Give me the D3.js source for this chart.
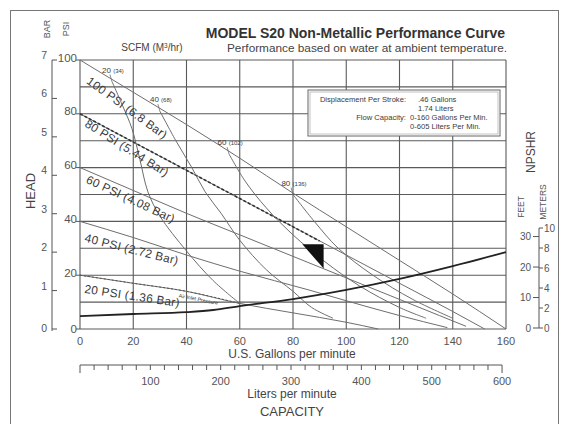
<!DOCTYPE html>
<html><head><meta charset="utf-8">
<script src="https://cdn.jsdelivr.net/npm/d3@7"></script>
<style>
html,body{margin:0;padding:0;background:#fff;}
svg{display:block;font-family:"Liberation Sans",Arial,sans-serif;}
</style></head>
<body>
<script>
// ---------- DATA ----------
const gpmTicks = [0,20,40,60,80,100,120,140,160];
const psiTicks = [0,20,40,60,80,100];
const barTicks = [0,1,2,3,4,5,6,7];
const lpmLabels = [100,200,300,400,500,600];
const feetTicks = [0,10,20,30];
const meterTicks = [0,2,4,6,8,10];

// constant air-inlet-pressure curves: [GPM, PSI head]
const p100 = [[0,100],[20,88],[40,76],[60,63.5],[80,50.5],[100,38],[120,25.5],[140,13],[160,0]];
const p80  = [[0,80],[20,69.5],[40,59],[60,48.5],[80,38],[100,27.5],[120,17],[140,6.5],[152,0]];
const p60  = [[0,60],[20,51.5],[40,43],[60,35],[80,27],[100,19],[120,11],[135,5],[145,1]];
const p40  = [[0,40],[20,34],[40,27.5],[60,21.5],[86,14.5],[100,10.5],[120,5],[138,0.5]];
const p20  = [[0,20],[20,17],[40,14],[60,9.5],[80,6],[100,2.5],[112,0]];
const p80dashed = [[0,80],[20,69.5],[40,59],[60,48.5],[80,38],[90,32.7]];
const pressureLabels = ["100 PSI (6.8 Bar)","80 PSI (5.44 Bar)","60 PSI (4.08 Bar)","40 PSI (2.72 Bar)","20 PSI (1.36 Bar)"];

// air consumption curves (SCFM): [GPM, PSI]
const s20 = [[12,92],[16,83],[19.5,74.5],[22.5,63],[25.5,51],[30,42],[40,29],[50,18],[60,9.5]];
const s40 = [[30,81],[36,70],[42,60],[47,51],[53,43],[60,33],[70,22],[80,14],[87,8],[95,4]];
const s60 = [[56,65],[62,55],[70,45],[80,35],[92,25],[105,16],[120,8],[130,4]];
const s80 = [[80,50],[88,40],[97,30],[110,20],[125,11],[140,4]];
const scfmLabels = [["20","(34)"],["40","(68)"],["60","(102)"],["80","(136)"]];

// NPSHR curve: [GPM, feet]
const npshr = [[0,3.9],[20,4.6],[40,5.2],[50,5.9],[60,7.2],[80,9.5],[100,12.5],[120,16.1],[140,20.3],[160,24.9]];

// operating-limit marker triangle: [GPM, PSI]
const marker = [[83.5,31.5],[91.5,31.5],[91.5,22.5]];

const infoLeft  = ["Displacement Per Stroke:","","Flow Capacity:",""];
const infoRight = [".46 Gallons","1.74 Liters","0-160 Gallons Per Min.","0-605 Liters Per Min."];

// ---------- DRAW ----------
const W=563,H=424;
const svg=d3.select("body").append("svg").attr("width",W).attr("height",H);
const ink="#3a3a3a", grid="#5a5a5a", curve="#6e6e6e";

svg.append("rect").attr("x",10.5).attr("y",10.5).attr("width",548).attr("height",430)
  .attr("fill","none").attr("stroke","#777").attr("stroke-width",1);

const x=d3.scaleLinear().domain([0,160]).range([80,506]);
const y=d3.scaleLinear().domain([0,100]).range([329,60]);
const yBar=d3.scaleLinear().domain([0,7]).range([329,60]);
const xL=d3.scaleLinear().domain([0,600]).range([80,x(600/3.785)]);
const yM=d3.scaleLinear().domain([0,10]).range([328,228]);
const yF=d3.scaleLinear().domain([0,10/0.3048]).range([328,228]);

// grid
const g=svg.append("g");
g.selectAll(".h").data(d3.range(0,101,10)).join("line")
  .attr("x1",x(0)).attr("x2",x(160)).attr("y1",d=>y(d)).attr("y2",d=>y(d))
  .attr("stroke",grid).attr("stroke-width",1.1);
g.selectAll(".v").data(gpmTicks).join("line")
  .attr("x1",d=>x(d)).attr("x2",d=>x(d)).attr("y1",y(0)).attr("y2",y(100))
  .attr("stroke",grid).attr("stroke-width",1.1);

// info box
const bx=308,by=90,bw=192,bh=46;
svg.append("rect").attr("x",bx).attr("y",by).attr("width",bw).attr("height",bh)
  .attr("fill","#fff").attr("stroke","#666").attr("stroke-width",1);
svg.append("rect").attr("x",bx+2).attr("y",by+2).attr("width",bw-4).attr("height",bh-4)
  .attr("fill","none").attr("stroke","#999").attr("stroke-width",0.6);
infoLeft.forEach((t,i)=>{
  svg.append("text").attr("x",406).attr("y",101.5+i*9.3).attr("text-anchor","end")
    .attr("font-size",7.6).attr("fill",ink).text(t);
});
infoRight.forEach((t,i)=>{
  svg.append("text").attr("x",i<2?418:410).attr("y",101.5+i*9.3)
    .attr("font-size",7.6).attr("fill",ink).text(t);
});

// curves
const line=d3.line().x(d=>x(d[0])).y(d=>y(d[1])).curve(d3.curveMonotoneX);
[p100,p80,p60,p40,p20].forEach(p=>{
  svg.append("path").attr("d",line(p)).attr("fill","none").attr("stroke",curve).attr("stroke-width",1);
});
svg.append("path").attr("d",line(p80dashed)).attr("fill","none").attr("stroke","#333")
  .attr("stroke-width",1.6).attr("stroke-dasharray","3,2");
svg.append("path").attr("d",line(p20.filter(d=>d[0]<=60))).attr("fill","none").attr("stroke","#555")
  .attr("stroke-width",1).attr("stroke-dasharray","2,2");

const lineC=d3.line().x(d=>x(d[0])).y(d=>y(d[1])).curve(d3.curveCatmullRom);
[s20,s40,s60,s80].forEach(p=>{
  svg.append("path").attr("d",lineC(p)).attr("fill","none").attr("stroke",curve).attr("stroke-width",1);
});
[s20,s40,s60,s80].forEach((p,i)=>{
  svg.append("line").attr("x1",x(p[0][0])).attr("x2",x(p[0][0])-2).attr("y1",y(p[0][1])).attr("y2",y(p[0][1])-7)
    .attr("stroke",curve).attr("stroke-width",0.8);
  const t=svg.append("text").attr("x",x(p[0][0])+1).attr("y",y(p[0][1])-9).attr("text-anchor","middle")
    .attr("fill",ink);
  t.append("tspan").attr("font-size",8).text(scfmLabels[i][0]+" ");
  t.append("tspan").attr("font-size",6).text(scfmLabels[i][1]);
});

// NPSHR curve
const lineN=d3.line().x(d=>x(d[0])).y(d=>yF(d[1])).curve(d3.curveMonotoneX);
svg.append("path").attr("d",lineN(npshr)).attr("fill","none").attr("stroke","#222").attr("stroke-width",1.8);

// marker
svg.append("path").attr("d","M"+marker.map(d=>x(d[0])+","+y(d[1])).join("L")+"Z").attr("fill","#111");

// pressure labels along lines (baseline start: GPM, PSI, angle)
const labPos=[[2.2,91.5,36],[1.5,75.5,32],[2,54.5,25],[1.5,32.5,14],[1.5,13.5,8.5]];
pressureLabels.forEach((t,i)=>{
  const [gx,py,a]=labPos[i];
  svg.append("text").attr("transform",`translate(${x(gx)},${y(py)}) rotate(${a})`)
    .attr("font-size",11.8).attr("fill",ink).attr("letter-spacing",0.3).text(t);
});
svg.append("text").attr("transform",`translate(${x(37)},${y(11.8)}) rotate(11)`)
  .attr("font-size",5.2).attr("fill",ink).text("Air Inlet Pressure");

// left axes
svg.append("line").attr("x1",52).attr("x2",52).attr("y1",yBar(7)).attr("y2",yBar(0)+2).attr("stroke","#555");
barTicks.forEach(b=>{
  svg.append("line").attr("x1",52).attr("x2",57).attr("y1",yBar(b)).attr("y2",yBar(b)).attr("stroke","#555");
  svg.append("text").attr("x",47).attr("y",yBar(b)+(b==0?3:-1)).attr("text-anchor","end")
    .attr("font-size",10.5).attr("fill","#555").text(b);
});
psiTicks.forEach(p=>{
  svg.append("line").attr("x1",76).attr("x2",80).attr("y1",y(p)).attr("y2",y(p)).attr("stroke","#555");
  svg.append("text").attr("x",77).attr("y",y(p)+(p==0?4:1.5)).attr("text-anchor","end")
    .attr("font-size",11.5).attr("fill","#555").text(p);
});
svg.append("text").attr("transform","translate(50,29) rotate(-90)").attr("text-anchor","middle")
  .attr("font-size",9).attr("fill","#555").text("BAR");
svg.append("text").attr("transform","translate(69,29) rotate(-90)").attr("text-anchor","middle")
  .attr("font-size",9).attr("fill","#555").text("PSI");
svg.append("text").attr("transform","translate(35,191) rotate(-90)").attr("text-anchor","middle")
  .attr("font-size",13).attr("fill","#444").text("HEAD");
svg.append("text").attr("x",152).attr("y",51).attr("text-anchor","middle")
  .attr("font-size",10).attr("fill","#444").html("SCFM (M<tspan font-size='6.5' dy='-3'>3</tspan><tspan dy='3'>/hr)</tspan>");

// title
svg.append("text").attr("x",505).attr("y",38).attr("text-anchor","end")
  .attr("font-size",14).attr("font-weight","bold").attr("fill","#333").text("MODEL S20 Non-Metallic Performance Curve");
svg.append("text").attr("x",507).attr("y",52).attr("text-anchor","end")
  .attr("font-size",11.8).attr("fill","#444").text("Performance based on water at ambient temperature.");

// bottom axis
gpmTicks.forEach(v=>{
  svg.append("text").attr("x",x(v)).attr("y",345).attr("text-anchor","middle")
    .attr("font-size",11).attr("fill","#555").text(v);
});
svg.append("text").attr("x",292).attr("y",357.5).attr("text-anchor","middle")
  .attr("font-size",12).attr("fill","#444").text("U.S. Gallons per minute");

// LPM axis
svg.append("line").attr("x1",xL(0)).attr("x2",xL(600)).attr("y1",365).attr("y2",365).attr("stroke","#555");
d3.range(0,601,20).forEach(v=>{
  const len=(v==0||v==600)?8:5;
  svg.append("line").attr("x1",xL(v)).attr("x2",xL(v)).attr("y1",365).attr("y2",365+len).attr("stroke","#555");
});
lpmLabels.forEach(v=>{
  svg.append("text").attr("x",xL(v)).attr("y",385).attr("text-anchor","middle")
    .attr("font-size",11).attr("fill","#555").text(v);
});
svg.append("text").attr("x",292).attr("y",397.5).attr("text-anchor","middle")
  .attr("font-size",12).attr("fill","#444").text("Liters per minute");
svg.append("text").attr("x",292).attr("y",416).attr("text-anchor","middle")
  .attr("font-size",13).attr("fill","#444").text("CAPACITY");

// right NPSHR axis
svg.append("line").attr("x1",539).attr("x2",539).attr("y1",yM(10)).attr("y2",yM(0)).attr("stroke","#555");
feetTicks.forEach(f=>{
  svg.append("line").attr("x1",533).attr("x2",539).attr("y1",yF(f)).attr("y2",yF(f)).attr("stroke","#555");
  svg.append("text").attr("x",531).attr("y",yF(f)+3.5).attr("text-anchor","end")
    .attr("font-size",10).attr("fill","#555").text(f);
});
meterTicks.forEach(m=>{
  svg.append("line").attr("x1",539).attr("x2",543).attr("y1",yM(m)).attr("y2",yM(m)).attr("stroke","#555");
  svg.append("text").attr("x",544).attr("y",yM(m)+3.5)
    .attr("font-size",10).attr("fill","#555").text(m);
});
svg.append("text").attr("transform","translate(535,152) rotate(-90)").attr("text-anchor","middle")
  .attr("font-size",12).attr("fill","#444").text("NPSHR");
svg.append("text").attr("transform","translate(524,207) rotate(-90)").attr("text-anchor","middle")
  .attr("font-size",8.5).attr("fill","#555").text("FEET");
svg.append("text").attr("transform","translate(546,202) rotate(-90)").attr("text-anchor","middle")
  .attr("font-size",8.5).attr("fill","#555").text("METERS");
</script>
</body></html>
